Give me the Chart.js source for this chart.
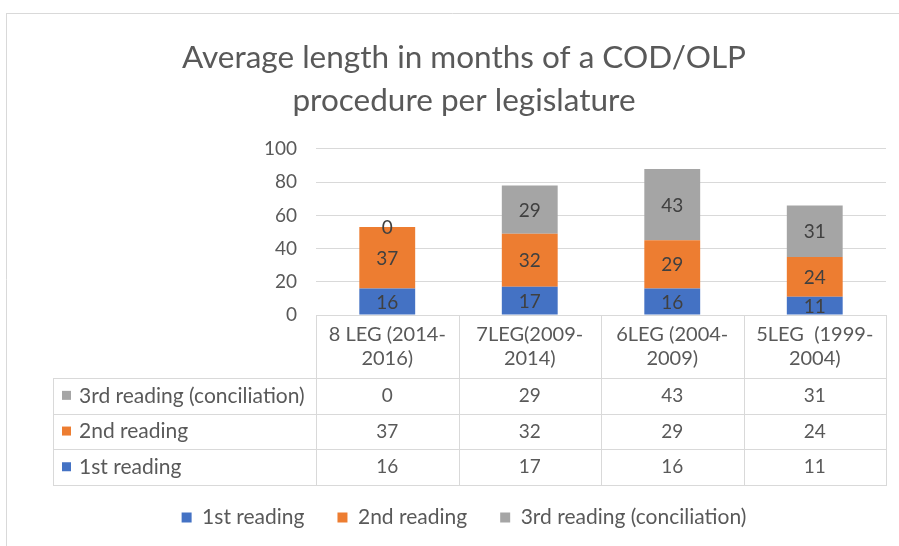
<!DOCTYPE html>
<html><head><meta charset="utf-8">
<script src="https://cdn.jsdelivr.net/npm/chart.js@4.4.0/dist/chart.umd.min.js"></script>
<style>html,body{margin:0;padding:0;background:#fff}canvas{display:block}</style>
</head><body>
<canvas id="c" width="899" height="546"></canvas>
<script>
const categories = ["8 LEG (2014-2016)", "7LEG(2009-2014)", "6LEG (2004-2009)", "5LEG  (1999-2004)"];
const categoryLines = [["8 LEG (2014-", "2016)"], ["7LEG(2009-", "2014)"], ["6LEG (2004-", "2009)"], ["5LEG  (1999-", "2004)"]];
const firstReading = [16, 17, 16, 11];
const secondReading = [37, 32, 29, 24];
const thirdReading = [0, 29, 43, 31];
const seriesNames = ["1st reading", "2nd reading", "3rd reading (conciliation)"];
const yTicks = [0, 20, 40, 60, 80, 100];
const titleLines = ["Average length in months of a COD/OLP", "procedure per legislature"];

const colors = ["#4472C4", "#ED7D31", "#A5A5A5"];
const FONT = "Lato";
const TXT = "#595959";

function hline(ctx, x1, x2, y) { y = Math.round(y) + 0.5; ctx.beginPath(); ctx.moveTo(x1, y); ctx.lineTo(x2, y); ctx.stroke(); }
function vline(ctx, x, y1, y2) { x = Math.round(x) + 0.5; ctx.beginPath(); ctx.moveTo(x, y1); ctx.lineTo(x, y2); ctx.stroke(); }

const framePlugin = {
  id: 'frame',
  beforeDraw(chart) {
    const ctx = chart.ctx;
    ctx.save();
    ctx.fillStyle = '#fff'; ctx.fillRect(0, 0, chart.width, chart.height);
    ctx.strokeStyle = '#d9d9d9'; ctx.lineWidth = 1;
    hline(ctx, 6, chart.width, 13);
    vline(ctx, 6, 13, chart.height);
    ctx.restore();
  }
};

const labelPlugin = {
  id: 'barLabels',
  afterDatasetsDraw(chart) {
    const ctx = chart.ctx;
    ctx.save();
    ctx.font = "19px " + FONT; ctx.fillStyle = "#404040";
    ctx.textAlign = 'center'; ctx.textBaseline = 'middle';
    chart.data.datasets.forEach((ds, di) => {
      chart.getDatasetMeta(di).data.forEach((el, i) => {
        const p = el.getProps(['x', 'y', 'base'], true);
        ctx.fillText(String(ds.data[i]), p.x, (p.y + p.base) / 2 + 1);
      });
    });
    ctx.restore();
  }
};

const tablePlugin = {
  id: 'dataTable',
  afterDraw(chart) {
    const ctx = chart.ctx, xs = chart.scales.x, a = chart.chartArea;
    const n = categories.length;
    const step = xs.getPixelForValue(1) - xs.getPixelForValue(0);
    const bounds = [];
    for (let i = 0; i <= n; i++) bounds.push(xs.getPixelForValue(0) - step / 2 + i * step);
    const top = a.bottom, headH = 63, rowH = 35.7, left = 53;
    const rows = [
      { name: seriesNames[2], color: colors[2], vals: thirdReading },
      { name: seriesNames[1], color: colors[1], vals: secondReading },
      { name: seriesNames[0], color: colors[0], vals: firstReading }
    ];
    const bottom = top + headH + rows.length * rowH;
    ctx.save();
    ctx.strokeStyle = '#d9d9d9'; ctx.lineWidth = 1;
    bounds.forEach(x => vline(ctx, x, top, bottom));
    vline(ctx, left, top + headH, bottom);
    for (let r = 0; r <= rows.length; r++) hline(ctx, left, bounds[n] + 1, top + headH + r * rowH);
    ctx.fillStyle = TXT; ctx.font = "20px " + FONT;
    ctx.textAlign = 'center'; ctx.textBaseline = 'middle';
    categoryLines.forEach((lines, i) => {
      const cx = (bounds[i] + bounds[i + 1]) / 2;
      lines.forEach((t, k) => ctx.fillText(t, cx, top + 20 + k * 24));
    });
    rows.forEach((row, r) => {
      const cy = top + headH + r * rowH + rowH / 2;
      ctx.fillStyle = row.color;
      ctx.fillRect(left + 9, cy - 5, 9, 9);
      ctx.fillStyle = TXT; ctx.textAlign = 'left';
      ctx.font = "21px " + FONT;
      ctx.fillText(row.name, left + 26, cy);
      ctx.textAlign = 'center';
      ctx.font = "19px " + FONT;
      row.vals.forEach((v, i) => ctx.fillText(String(v), (bounds[i] + bounds[i + 1]) / 2, cy));
    });
    ctx.restore();
  }
};

new Chart(document.getElementById('c'), {
  type: 'bar',
  data: {
    labels: categories,
    datasets: [
      { label: seriesNames[0], data: firstReading, backgroundColor: colors[0] },
      { label: seriesNames[1], data: secondReading, backgroundColor: colors[1] },
      { label: seriesNames[2], data: thirdReading, backgroundColor: colors[2] }
    ]
  },
  options: {
    responsive: false, animation: false, devicePixelRatio: 1,
    categoryPercentage: 0.8, barPercentage: 0.49,
    layout: { padding: { left: 42, right: 13, top: 0, bottom: 8 } },
    plugins: {
      title: {
        display: true, text: titleLines, color: TXT,
        font: { family: FONT, size: 31.5, weight: 'normal', lineHeight: 1.365 },
        padding: { top: 36, bottom: 27 }
      },
      legend: {
        position: 'bottom',
        labels: { color: TXT, font: { family: FONT, size: 21 }, boxWidth: 10, boxHeight: 10, padding: 33 }
      },
      tooltip: { enabled: false }
    },
    scales: {
      x: {
        stacked: true,
        grid: { display: false }, border: { display: false },
        ticks: { display: false },
        afterFit(s) { s.height = 159; }
      },
      y: {
        stacked: true, min: 0, max: 100,
        afterBuildTicks(s) { s.ticks = yTicks.map(v => ({ value: v })); },
        grid: { color: '#d9d9d9', drawTicks: false },
        border: { display: false },
        ticks: { color: TXT, font: { family: FONT, size: 19 }, padding: 19 },
        afterFit(s) { s.width = 274; }
      }
    }
  },
  plugins: [framePlugin, labelPlugin, tablePlugin]
});
</script>
</body></html>
